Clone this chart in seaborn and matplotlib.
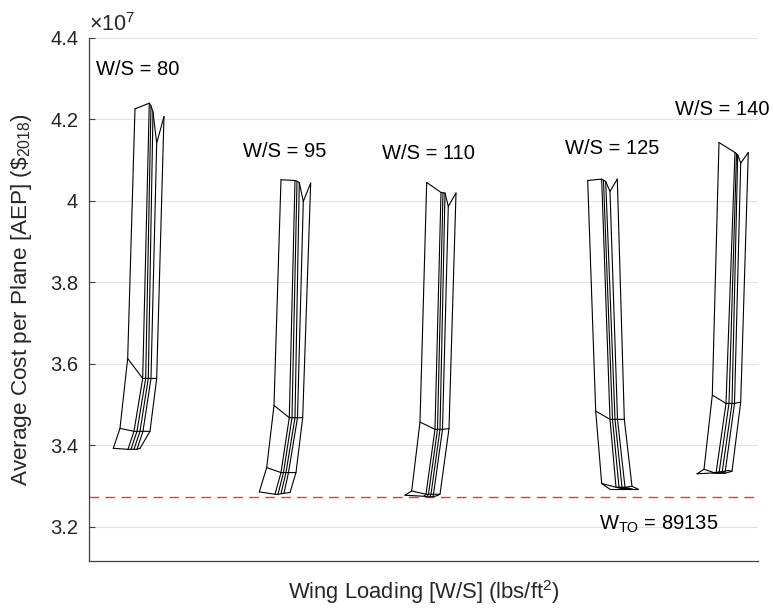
import numpy as np
import pandas as pd
import matplotlib
matplotlib.use("Agg")
import matplotlib.pyplot as plt
import seaborn as sns

# carpet plots: 4 rows x 6 columns per wing loading, x is a carpet offset (no real axis)
# cost values in units of 1e7 $ (2018)
wing_loadings = [80, 95, 110, 125, 140]

ws80_x = [[45.7, 60.0, 61.7, 63.7, 67.4, 74.7],
          [38.4, 53.4, 56.4, 59.0, 61.7, 67.4],
          [30.7, 44.7, 47.7, 50.7, 53.7, 60.7],
          [24.0, 38.7, 41.7, 44.7, 47.7, 50.7]]
ws80_cost = [[4.2254, 4.2393, 4.2327, 4.2180, 4.1413, 4.2065],
             [3.6130, 3.5640, 3.5640, 3.5640, 3.5640, 3.5640],
             [3.4415, 3.4342, 3.4342, 3.4342, 3.4342, 3.4342],
             [3.3925, 3.3901, 3.3901, 3.3901, 3.3901, 3.3925]]

ws95_x = [[191.7, 205.7, 207.7, 210.0, 214.0, 221.4],
          [184.7, 200.0, 202.7, 205.7, 208.2, 213.4],
          [177.4, 191.7, 194.2, 196.7, 199.2, 206.7],
          [170.0, 185.7, 188.7, 191.7, 194.7, 200.7]]
ws95_cost = [[4.0514, 4.0497, 4.0478, 4.0448, 3.9983, 4.0434],
             [3.4978, 3.4677, 3.4677, 3.4677, 3.4677, 3.4677],
             [3.3452, 3.3330, 3.3330, 3.3330, 3.3330, 3.3330],
             [3.2855, 3.2798, 3.2798, 3.2810, 3.2823, 3.2840]]

ws110_x = [[337.4, 351.7, 353.7, 355.7, 359.0, 366.7],
           [330.7, 345.7, 348.2, 350.7, 353.2, 359.7],
           [322.4, 336.7, 339.2, 341.7, 344.2, 350.7],
           [315.7, 334.7, 337.7, 340.7, 343.7, 347.7]]
ws110_cost = [[4.0448, 4.0203, 4.0196, 4.0189, 3.9860, 4.0189],
              [3.4569, 3.4391, 3.4391, 3.4391, 3.4391, 3.4408],
              [3.2879, 3.2798, 3.2798, 3.2798, 3.2798, 3.2798],
              [3.2774, 3.2749, 3.2740, 3.2735, 3.2740, 3.2762]]

ws125_x = [[498.4, 512.4, 514.2, 516.4, 520.7, 528.0],
           [506.4, 520.7, 523.2, 525.7, 528.2, 535.0],
           [512.4, 526.7, 529.7, 532.7, 535.7, 542.7],
           [520.7, 534.7, 537.7, 540.7, 543.7, 549.0]]
ws125_cost = [[4.0497, 4.0531, 4.0502, 4.0473, 4.0228, 4.0531],
              [3.4839, 3.4636, 3.4636, 3.4636, 3.4636, 3.4636],
              [3.3061, 3.2970, 3.2970, 3.2970, 3.2970, 3.2994],
              [3.2921, 3.2921, 3.2921, 3.2921, 3.2921, 3.2921]]

ws140_x = [[629.7, 645.7, 647.2, 648.4, 651.4, 659.0],
           [623.0, 636.7, 639.7, 642.7, 645.2, 651.4],
           [614.7, 626.7, 629.7, 632.7, 635.7, 642.7],
           [607.7, 622.7, 625.7, 628.7, 631.7, 638.7]]
ws140_cost = [[4.1428, 4.1183, 4.1151, 4.1127, 4.0923, 4.1183],
              [3.5231, 3.5027, 3.5027, 3.5027, 3.5027, 3.5059],
              [3.3411, 3.3313, 3.3313, 3.3313, 3.3313, 3.3362],
              [3.3300, 3.3320, 3.3330, 3.3340, 3.3350, 3.3380]]

# label positions (carpet x, cost)
label_x = [6.7, 153.7, 292.7, 475.7, 585.7]
label_y = [4.321, 4.120, 4.117, 4.127, 4.223]
w_to = 89135

carpets = {80: (ws80_x, ws80_cost), 95: (ws95_x, ws95_cost), 110: (ws110_x, ws110_cost),
           125: (ws125_x, ws125_cost), 140: (ws140_x, ws140_cost)}

# build long table: one line per carpet row and per carpet column
records = []
for ws, (xs, cs) in carpets.items():
    xs = np.array(xs)
    cs = np.array(cs)
    for r in range(xs.shape[0]):
        for c in range(xs.shape[1]):
            records.append({"line": f"{ws}_r{r}", "x": xs[r, c], "cost": cs[r, c]})
    for c in range(xs.shape[1]):
        for r in range(xs.shape[0]):
            records.append({"line": f"{ws}_c{c}", "x": xs[r, c], "cost": cs[r, c]})
df = pd.DataFrame(records)

sns.set_theme(style="white")
plt.rcParams['font.family'] = ['Liberation Sans', 'DejaVu Sans']
plt.rcParams['mathtext.default'] = 'regular'

fig = plt.figure(figsize=(7.73, 6.11), dpi=100)
ax = fig.add_axes([0.1155, 0.0818, 0.8651, 0.8565])

sns.lineplot(data=df, x="x", y="cost", units="line", estimator=None, sort=False,
             color="black", linewidth=0.8, legend=False, ax=ax)

min_cost = df["cost"].min()
ax.axhline(min_cost, color="#ff3030", lw=1.0, ls=(0, (7, 4.5)), zorder=1)

for ws, lx, ly in zip(wing_loadings, label_x, label_y):
    ax.text(lx, ly, f"W/S = {ws}", fontsize=14.5, ha="left", va="center", color="black")
ax.text(509.7, 3.1925, r"W$_{TO}$ = " + str(w_to), fontsize=14.5, ha="left",
        va="baseline", color="black")

ax.set_xlim(0, 668.7)
ax.set_ylim(3.116, 4.4)
ax.set_xticks([])
yt = np.arange(3.2, 4.41, 0.2)
ax.set_yticks(yt)
ax.set_yticklabels([f"{v:g}" for v in np.round(yt, 1)])
ax.yaxis.grid(True, color="#e3e3e3", lw=0.8)
ax.set_axisbelow(True)

for s in ["top", "right"]:
    ax.spines[s].set_visible(False)
for s in ["left", "bottom"]:
    ax.spines[s].set_color("#404040")
    ax.spines[s].set_linewidth(0.9)
ax.tick_params(axis="y", direction="in", length=4, width=0.8, color="#404040",
               labelsize=14.5, labelcolor="#262626", pad=8, left=True)

ax.set_xlabel(r"Wing Loading [W/S] (lbs/ft$^2$)", fontsize=15.8, color="#262626")
ax.set_ylabel(r"Average Cost per Plane [AEP] (\$$_{2018}$)", fontsize=16.2, color="#262626")
ax.xaxis.set_label_coords(0.5, -0.033)
ax.yaxis.set_label_coords(-0.083, 0.5)
ax.text(0.0, 1.004, r"$\times10^{7}$", transform=ax.transAxes, fontsize=15.5,
        ha="left", va="bottom", color="#262626")

fig.savefig("out.png", dpi=100)
